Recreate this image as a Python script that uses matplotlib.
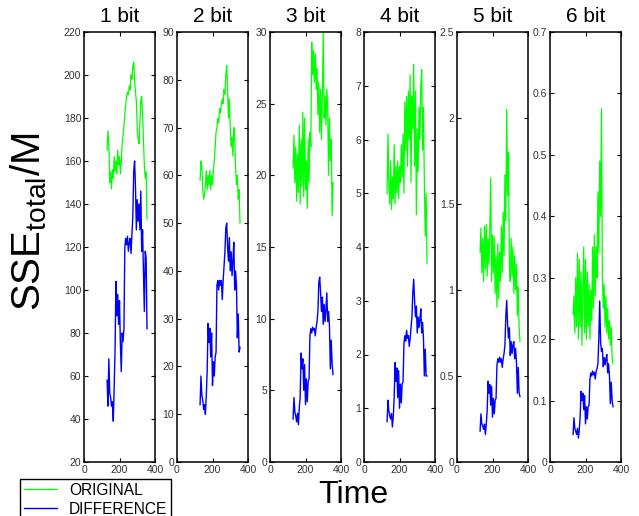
"""SSE_total/M over time for 1..6 bit quantisation: original vs difference."""

import matplotlib
matplotlib.use("Agg")
import matplotlib.pyplot as plt
from matplotlib.ticker import FuncFormatter

plt.rcParams["font.family"] = ["Liberation Sans", "DejaVu Sans"]

time = [130, 135, 140, 145, 150, 155, 160, 165, 170, 175, 180, 185, 190, 195,
        200, 205, 210, 215, 220, 225, 230, 235, 240, 245, 250, 255, 260, 265,
        270, 275, 280, 285, 290, 295, 300, 305, 310, 315, 320, 325, 330, 335,
        340, 345, 350, 355]

titles = ["1 bit", "2 bit", "3 bit", "4 bit", "5 bit", "6 bit"]

orig_1 = [165, 174, 168, 150, 155, 147, 156, 152, 162, 155, 160, 154, 165, 158,
          162, 154, 160, 168, 172, 176, 182, 186, 190, 192, 191, 195, 193, 200,
          198, 204, 206, 198, 192, 188, 175, 170, 168, 178, 188, 190, 182, 170,
          158, 152, 155, 133]
diff_1 = [58, 46, 68, 52, 50, 46, 48, 39, 55, 72, 104, 88, 98, 84,
          95, 75, 62, 80, 76, 82, 120, 124, 121, 125, 118, 122, 124, 117,
          126, 134, 155, 160, 148, 128, 142, 132, 140, 128, 146, 118, 128, 108,
          90, 118, 115, 82]

orig_2 = [59, 63, 62, 57, 55, 56, 58, 61, 57, 60, 58, 61, 57, 60,
          58, 61, 63, 66, 69, 70, 72, 71, 74, 73, 75, 76, 75, 78,
          77, 81, 83, 78, 72, 76, 70, 66, 68, 64, 70, 68, 62, 58,
          60, 55, 57, 50]
diff_2 = [12, 18, 14, 13, 11, 12, 10, 14, 19, 29, 25, 28, 22, 27,
          16, 21, 18, 22, 23, 37, 38, 36, 38, 37, 38, 34, 38, 41,
          44, 49, 50, 45, 42, 47, 40, 44, 39, 42, 46, 36, 40, 37,
          26, 31, 23, 24]

orig_3 = [20.5, 22.8, 19.5, 22.0, 18.2, 21.5, 18.8, 23.5, 18.0, 22.5, 19.2, 24.4,
          18.5, 24.0, 19.0, 21.0, 17.7, 22.5, 19.5, 23.0, 22.0, 29.3, 27.0, 28.7,
          26.5, 28.5, 26.0, 27.5, 24.2, 26.5, 23.0, 26.0, 22.5, 25.5, 30.0, 24.0,
          25.5, 23.5, 26.0, 24.8, 20.0, 24.0, 21.0, 22.5, 17.2, 19.5]
diff_3 = [3.0, 4.5, 3.5, 3.2, 2.8, 3.4, 2.6, 3.8, 4.5, 7.6, 6.5, 7.2,
          5.0, 6.8, 4.0, 5.8, 4.2, 5.6, 5.8, 8.8, 9.3, 9.0, 9.4, 9.2,
          9.3, 8.8, 9.4, 9.8, 10.5, 12.5, 12.9, 11.8, 10.5, 11.5, 9.6, 11.0,
          9.8, 10.6, 11.8, 9.8, 10.5, 9.5, 6.5, 8.5, 6.8, 6.1]

orig_4 = [5.0, 6.1, 5.2, 4.8, 5.6, 4.7, 5.3, 4.9, 5.9, 4.8, 5.5, 5.0,
          5.6, 4.9, 5.5, 5.2, 5.9, 5.3, 6.1, 5.0, 6.7, 5.8, 6.8, 5.5,
          6.9, 6.0, 7.2, 5.2, 6.8, 6.2, 7.4, 5.5, 6.9, 4.6, 6.2, 5.4,
          6.6, 6.0, 7.0, 7.3, 5.8, 6.6, 5.2, 4.2, 5.0, 3.7]
diff_4 = [0.75, 1.15, 0.95, 0.85, 0.8, 0.9, 0.65, 0.85, 1.2, 1.85, 1.5, 1.75,
          1.2, 1.7, 1.0, 1.45, 1.1, 1.45, 1.5, 2.2, 2.35, 2.25, 2.45, 2.3,
          2.35, 2.15, 2.3, 2.5, 2.7, 3.15, 3.4, 3.0, 2.7, 2.9, 2.4, 2.7,
          2.5, 2.65, 2.85, 2.4, 2.6, 2.3, 1.6, 2.1, 1.6, 1.6]

orig_5 = [1.22, 1.36, 1.10, 1.30, 1.05, 1.37, 1.12, 1.38, 1.08, 1.30, 1.15, 1.36,
          1.65, 1.05, 1.32, 1.10, 1.31, 0.98, 1.20, 0.90, 1.27, 0.95, 1.22, 1.05,
          1.37, 1.10, 1.45, 1.20, 1.67, 1.40, 2.05, 1.55, 1.80, 1.15, 1.05, 1.30,
          1.08, 1.25, 0.98, 1.20, 1.00, 1.15, 0.85, 1.02, 0.78, 0.70]
diff_5 = [0.18, 0.28, 0.22, 0.21, 0.19, 0.22, 0.16, 0.22, 0.30, 0.47, 0.40, 0.45,
          0.33, 0.44, 0.26, 0.37, 0.28, 0.36, 0.37, 0.56, 0.60, 0.58, 0.61, 0.58,
          0.60, 0.55, 0.60, 0.63, 0.68, 0.85, 0.94, 0.80, 0.72, 0.78, 0.62, 0.70,
          0.63, 0.68, 0.70, 0.60, 0.66, 0.58, 0.40, 0.55, 0.40, 0.38]

orig_6 = [0.24, 0.27, 0.21, 0.30, 0.22, 0.34, 0.20, 0.33, 0.22, 0.31, 0.19, 0.28,
          0.35, 0.21, 0.33, 0.20, 0.31, 0.22, 0.29, 0.20, 0.28, 0.23, 0.35, 0.25,
          0.37, 0.27, 0.35, 0.30, 0.44, 0.34, 0.49, 0.40, 0.575, 0.30, 0.25, 0.29,
          0.22, 0.27, 0.21, 0.25, 0.20, 0.23, 0.19, 0.22, 0.17, 0.16]
diff_6 = [0.045, 0.072, 0.055, 0.050, 0.045, 0.055, 0.039, 0.052, 0.075, 0.115,
          0.100, 0.112, 0.085, 0.108, 0.062, 0.090, 0.070, 0.090, 0.092, 0.135,
          0.145, 0.140, 0.148, 0.142, 0.146, 0.135, 0.148, 0.152, 0.160, 0.200,
          0.262, 0.195, 0.180, 0.185, 0.155, 0.170, 0.158, 0.168, 0.175, 0.145,
          0.160, 0.140, 0.095, 0.130, 0.100, 0.090]

originals = [orig_1, orig_2, orig_3, orig_4, orig_5, orig_6]
differences = [diff_1, diff_2, diff_3, diff_4, diff_5, diff_6]

y_limits = [(20, 220), (0, 90), (0, 30), (0, 8), (0, 2.5), (0, 0.7)]
y_steps = [20, 10, 5, 1, 0.5, 0.1]
x_ticks = [0, 200, 400]


def fmt_g(v, _pos):
    return f"{v:g}"


W, H = 639, 516
fig = plt.figure(figsize=(W / 100, H / 100), dpi=100)

lefts_px = [84, 177, 270, 364, 457, 550]
ax_w, ax_top, ax_bot = 71, 32, 462

line_o = line_d = None
for i, left in enumerate(lefts_px):
    ax = fig.add_axes([left / W, 1 - ax_bot / H, ax_w / W, (ax_bot - ax_top) / H])
    line_o, = ax.plot(time, originals[i], color=(0, 1, 0), lw=0.9)
    line_d, = ax.plot(time, differences[i], color=(0, 0, 1), lw=1.0)
    lo, hi = y_limits[i]
    step = y_steps[i]
    n = int(round((hi - lo) / step))
    ax.set_ylim(lo, hi)
    ax.set_yticks([round(lo + k * step, 4) for k in range(n + 1)])
    ax.yaxis.set_major_formatter(FuncFormatter(fmt_g))
    ax.set_xlim(0, 400)
    ax.set_xticks(x_ticks)
    ax.tick_params(direction="in", length=3, width=0.8, top=True, right=True,
                   labelsize=7.5, labelcolor="#333333", pad=2)
    for sp in ax.spines.values():
        sp.set_linewidth(1.1)
    ax.set_title(titles[i], fontsize=15, pad=7)

fig.text(29 / W, 1 - 222 / H, r"SSE$_{\mathregular{total}}$/M", rotation=90,
         fontsize=29, ha="center", va="center")
fig.text(353 / W, 1 - 495 / H, "Time", fontsize=23, ha="center", va="center")

leg = fig.legend([line_o, line_d], ["ORIGINAL", "DIFFERENCE"],
                 loc="upper left", bbox_to_anchor=(20 / W, 1 - 479 / H),
                 borderaxespad=0, fancybox=False, framealpha=1,
                 edgecolor="black", fontsize=11.2, handlelength=2.1,
                 handletextpad=0.8, borderpad=0.25, labelspacing=0.25)
leg.get_frame().set_linewidth(1.0)

fig.savefig("out.png", dpi=100)
